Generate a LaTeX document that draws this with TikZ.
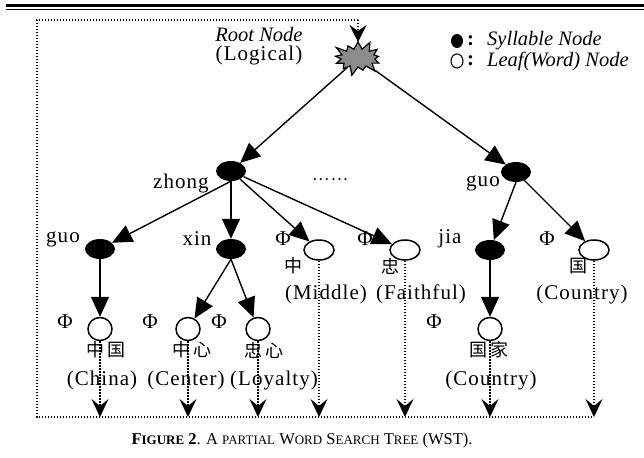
\documentclass[tikz,border=0pt]{standalone}
\usepackage{fontspec}
\setmainfont{Liberation Serif}
\newfontfamily\lab{Liberation Serif}[LetterSpace=5]
\newfontfamily\cjk{Noto Sans CJK SC}[LetterSpace=12]
\usetikzlibrary{arrows.meta,shapes.geometric,shapes.symbols}
\definecolor{stargray}{RGB}{140,140,140}
\newcommand\smc[1]{{\fontsize{13}{14}\selectfont #1}}
\tikzset{
  syl/.style={ellipse, fill=black, minimum width=30pt, minimum height=20pt, inner sep=0pt},
  leafA/.style={ellipse, draw, line width=1.5pt, fill=white, minimum width=30pt, minimum height=20pt, inner sep=0pt},
  leafB/.style={ellipse, draw, line width=1.5pt, fill=white, minimum width=24pt, minimum height=23pt, inner sep=0pt},
  lbl/.style={font=\fontsize{21}{23}\selectfont\lab, inner sep=0pt},
  itl/.style={font=\fontsize{20.5}{23}\selectfont\itshape, inner sep=0pt},
  zh/.style={font=\fontsize{18}{20}\selectfont\cjk, inner sep=0pt},
  tarrow/.style={line width=1.4pt, -{Triangle[length=20pt,width=18pt]}},
  dline/.style={line width=1.3pt, dash pattern=on 1.3pt off 1.7pt},
  darrow/.style={dline, -{Stealth[length=18pt,width=17pt,inset=7pt]}},
  toparrow/.style={dline, -{Stealth[length=17pt,width=17pt,inset=6pt]}},
}
\begin{document}
\begin{tikzpicture}[x=1pt,y=-1pt]
\useasboundingbox (0,0) rectangle (644,457);
% top double rule
\draw[line width=2.6pt] (6,5.5) -- (644,5.5);
\draw[line width=1pt] (6,9.5) -- (644,9.5);

% root
\node[starburst, starburst points=13, starburst point height=10pt, draw, line width=1.2pt,
      fill=stargray, minimum width=54pt, minimum height=38pt, inner sep=0pt] (root) at (358,58) {};
\node[itl] (rootT) at (259,34) {Root Node};
\node[lbl] (rootL) at (259,55) {(Logical)};

% legend
\node[syl, minimum width=12pt, minimum height=14pt] (lsyl) at (457,41) {};
\node[ellipse, draw, line width=1.1pt, minimum width=12pt, minimum height=14pt, inner sep=0pt] (lleaf) at (457,61) {};
\node[lbl, anchor=west] (lsylc) at (467,41) {\textbf{:}};
\node[lbl, anchor=west] (lleafc) at (467,61) {\textbf{:}};
\node[itl, anchor=west] (lsylt) at (487,41) {Syllable Node};
\node[itl, anchor=west] (lleaft) at (487,61) {Leaf(Word) Node};

% level 1
\node[syl] (zhong) at (231,171) {};
\node[syl] (guoR) at (516,172) {};
\node[lbl] (zhongT) at (181,183) {zhong};
\node[lbl] (guoRT) at (483,183) {guo};
\node[zh, font=\fontsize{16}{18}\selectfont\cjk] (dots) at (330,180) {……};

% level 2
\node[syl] (guoL) at (100,249) {};
\node[syl] (xin) at (231,249) {};
\node[leafA] (mid) at (319,250) {};
\node[leafA] (fai) at (405,250) {};
\node[syl] (jia) at (490,250) {};
\node[leafA] (cty) at (594,250) {};
\node[lbl] (guoLT) at (63,239) {guo};
\node[lbl] (xinT) at (197,239) {xin};
\node[lbl] (midP) at (283,239) {Φ};
\node[lbl] (faiP) at (365,239) {Φ};
\node[lbl] (jiaT) at (450,239) {jia};
\node[lbl] (ctyP) at (547,239) {Φ};
\node[zh] (midC) at (293,266) {中};
\node[zh] (faiC) at (390,266) {忠};
\node[zh] (ctyC) at (578,266) {国};
\node[lbl] (midE) at (326,294) {(Middle)};
\node[lbl] (faiE) at (421,294) {(Faithful)};
\node[lbl] (ctyE) at (582,294) {(Country)};

% level 3
\node[leafB] (china) at (100,329) {};
\node[leafB] (center) at (188,329) {};
\node[leafB] (loyal) at (258,329) {};
\node[leafB] (guojia) at (490,329) {};
\node[lbl] (chinaP) at (65,322) {Φ};
\node[lbl] (centerP) at (150,322) {Φ};
\node[lbl] (loyalP) at (219,322) {Φ};
\node[lbl] (guojiaP) at (434,322) {Φ};
\node[zh] (chinaC) at (106,350) {中国};
\node[zh] (centerC) at (192,350) {中心};
\node[zh] (loyalC) at (264,350) {忠心};
\node[zh] (guojiaC) at (489,350) {国家};
\node[lbl] (chinaE) at (102,380) {(China)};
\node[lbl] (centerE) at (186,380) {(Center)};
\node[lbl] (loyalE) at (274,380) {(Loyalty)};
\node[lbl] (guojiaE) at (491,380) {(Country)};

% tree edges
\draw[tarrow] (root) -- (zhong);
\draw[tarrow] (root) -- (guoR);
\draw[tarrow] (zhong.south) -- (guoL);
\draw[tarrow] (zhong.south) -- (xin);
\draw[tarrow] (zhong) -- (mid);
\draw[tarrow] (zhong) -- (fai);
\draw[tarrow] (guoR.south) -- (jia);
\draw[tarrow] (guoR) -- (cty);
\draw[tarrow] (guoL) -- (china);
\draw[tarrow] (xin.south) -- (center);
\draw[tarrow] (xin.south) -- (loyal);
\draw[tarrow] (jia) -- (guojia);

% dotted frame
\coordinate (ftop) at (358,20);
\coordinate (ftl) at (37,20);
\coordinate (fbl) at (37,417);
\coordinate (fbr) at (594,417);
\coordinate (rtip) at (358,42);
\draw[dline] (ftop) -- (ftl) -- (fbl) -- (fbr);
\draw[toparrow] (ftop) -- (rtip);
\foreach \n in {china,center,loyal,mid,fai,guojia,cty}{
  \draw[darrow] (\n.south) -- (\n.south |- fbl);
}

% caption
\node[font=\fontsize{16.5}{18}\selectfont, inner sep=0pt] (cap) at (302,441)
  {\textbf{F\smc{IGURE} 2}. A \smc{PARTIAL} W\smc{ORD} S\smc{EARCH} T\smc{REE} (WST).};
\end{tikzpicture}
\end{document}
